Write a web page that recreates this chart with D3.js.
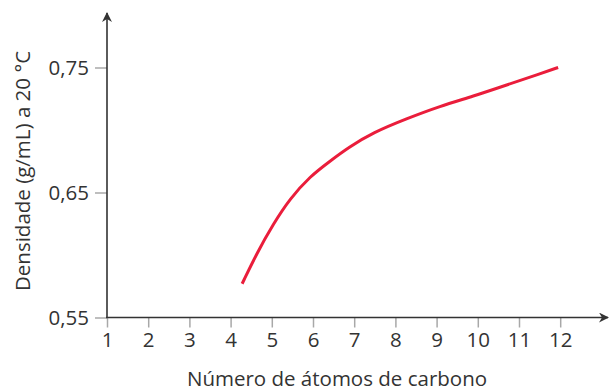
<!DOCTYPE html>
<html>
<head>
<meta charset="utf-8">
<script src="https://cdn.jsdelivr.net/npm/d3@7"></script>
<style>
  body { margin: 0; background: #fff; }
  text { font-family: "Open Sans", Lato, sans-serif; fill: #333; }
</style>
</head>
<body>
<div id="chart"></div>
<script>
// values
const carbonAtoms = [4.28, 4.63, 5.04, 5.44, 5.93, 6.41, 6.86, 7.46, 8.27, 9.08, 9.89, 10.70, 11.51, 11.95]
const density = [0.577, 0.601, 0.625, 0.645, 0.663, 0.675, 0.686, 0.698, 0.709, 0.719, 0.727, 0.736, 0.745, 0.750]
const xTicks = [1, 2, 3, 4, 5, 6, 7, 8, 9, 10, 11, 12]
const yTicks = [0.55, 0.65, 0.75]

const WIDTH = 609
const HEIGHT = 392
const AXIS_COLOR = "#333"
const TICK_COLOR = "#a8a8a8"
const FONT_SIZE = "20.5px"

const svg = d3.select("#chart")
  .append("svg")
    .attr("width", WIDTH)
    .attr("height", HEIGHT)

const x = d3.scaleLinear()
  .domain([1, 12])
  .range([107, 560.2])

const y = d3.scaleLinear()
  .domain([0.55, 0.75])
  .range([317.5, 67.5])

const fmt = d => d3.format(".2f")(d).replace(".", ",")

// x axis
const xAxis = svg.append("g")
  .attr("transform", `translate(0, ${y(0.55)})`)
  .call(d3.axisBottom(x).tickValues(xTicks).tickSize(10).tickPadding(5).tickFormat(d3.format("d")))
xAxis.select(".domain").remove()
xAxis.selectAll(".tick line").attr("stroke", TICK_COLOR).attr("stroke-width", 1.5)
xAxis.selectAll(".tick text").style("font-size", FONT_SIZE).attr("fill", "#333")

// y axis
const yAxis = svg.append("g")
  .attr("transform", `translate(${x(1)}, 0)`)
  .call(d3.axisLeft(y).tickValues(yTicks).tickSize(12).tickPadding(6).tickFormat(fmt))
yAxis.select(".domain").remove()
yAxis.selectAll(".tick line").attr("stroke", TICK_COLOR).attr("stroke-width", 1.5)
yAxis.selectAll(".tick text").style("font-size", FONT_SIZE).attr("fill", "#333")

// axis lines with arrows
svg.append("defs").append("marker")
    .attr("id", "arrow")
    .attr("viewBox", "0 0 10 10")
    .attr("refX", 9)
    .attr("refY", 5)
    .attr("markerWidth", 10)
    .attr("markerHeight", 10)
    .attr("markerUnits", "userSpaceOnUse")
    .attr("orient", "auto")
  .append("path")
    .attr("d", "M0,0 L10,5 L0,10 L3,5 Z")
    .attr("fill", AXIS_COLOR)

svg.append("line")
  .attr("x1", x(1) - 1).attr("x2", 608)
  .attr("y1", y(0.55)).attr("y2", y(0.55))
  .attr("stroke", AXIS_COLOR).attr("stroke-width", 1.6)
  .attr("marker-end", "url(#arrow)")

svg.append("line")
  .attr("x1", x(1)).attr("x2", x(1))
  .attr("y1", y(0.55)).attr("y2", 13)
  .attr("stroke", AXIS_COLOR).attr("stroke-width", 1.6)
  .attr("marker-end", "url(#arrow)")

// curve
const line = d3.line()
  .x((d, i) => x(carbonAtoms[i]))
  .y(d => y(d))
  .curve(d3.curveBasis)

svg.append("path")
  .datum(density)
  .attr("d", line)
  .attr("fill", "none")
  .attr("stroke", "#ea1d3b")
  .attr("stroke-width", 3)

// titles
svg.append("text")
  .attr("x", 337)
  .attr("y", 386)
  .attr("text-anchor", "middle")
  .style("font-size", FONT_SIZE)
  .text("Número de átomos de carbono")

svg.append("text")
  .attr("transform", "translate(30, 171) rotate(-90)")
  .attr("text-anchor", "middle")
  .style("font-size", FONT_SIZE)
  .text("Densidade (g/mL) a 20 °C")
</script>
</body>
</html>
